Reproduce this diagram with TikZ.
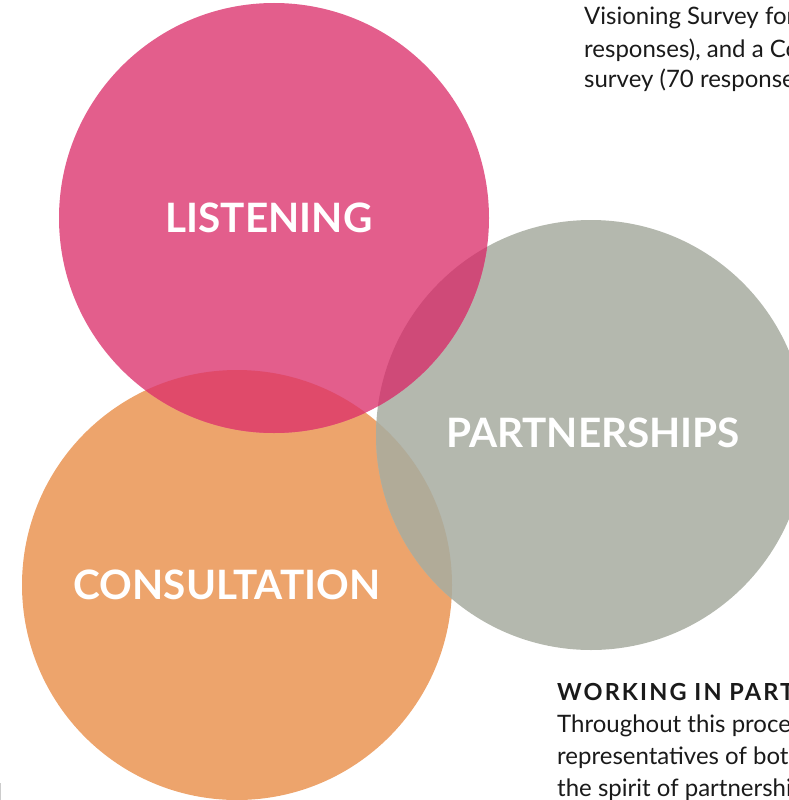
\documentclass[tikz,border=0pt]{standalone}
\usepackage{fontspec}
\setmainfont{Lato}
\newfontfamily\headfont{Lato}[LetterSpace=9.0]
\usepackage{tikz}
\usetikzlibrary{positioning}

\definecolor{pinkc}{HTML}{E35E8C}
\definecolor{grayc}{HTML}{B4B8AE}
\definecolor{orangec}{HTML}{EDA46C}
\definecolor{pinkorange}{HTML}{E04A6A}
\definecolor{pinkgray}{HTML}{CF4A78}
\definecolor{grayorange}{HTML}{B1AB98}
\definecolor{textc}{HTML}{1A1A1A}

\begin{document}
\begin{tikzpicture}[
    x=1pt, y=-1pt,
    label/.style={text=white, font=\fontsize{40.5}{46}\selectfont\bfseries, inner sep=0pt},
    body/.style={text=textc, anchor=base west, inner sep=0pt, font=\fontsize{24}{28}\selectfont},
  ]
    \useasboundingbox (0,0) rectangle (789,800);
    \clip (0,0) rectangle (789,800);
    \coordinate (cL) at (274,218);
    \coordinate (cP) at (591,435);
    \coordinate (cC) at (237,585);
    % circles
    \fill[orangec] (cC) circle (215);
    \fill[grayc] (cP) circle (215);
    \fill[pinkc] (cL) circle (215);
    % overlaps
    \begin{scope}
      \clip (cL) circle (215);
      \fill[pinkorange] (cC) circle (215);
      \fill[pinkgray] (cP) circle (215);
    \end{scope}
    \begin{scope}
      \clip (cP) circle (215);
      \fill[grayorange] (cC) circle (215);
    \end{scope}
    \node[label] (listen) at (269,218) {LISTENING};
    \node[label] (partner) at (593,433) {PARTNERSHIPS};
    \node[label] (consult) at (227,585) {CONSULTATION};
    % side text
    \node[body] (top1) at (584,25) {Visioning Survey for};
    \node[body] (top2) at (584,57) {responses), and a Com};
    \node[body] (top3) at (584,88) {survey (70 responses};
    \node[body, font=\fontsize{23.5}{26}\headfont\bfseries] (head) at (557,700) {WORKING IN PARTN};
    \node[body] (bot1) at (557,732) {Throughout this proces};
    \node[body] (bot2) at (557,764) {representatives of both};
    \node[body] (bot3) at (557,796) {the spirit of partnership};
    \draw[gray!40, line width=1pt] (0.5,783) -- (0.5,800);
  \end{tikzpicture}
\end{document}
